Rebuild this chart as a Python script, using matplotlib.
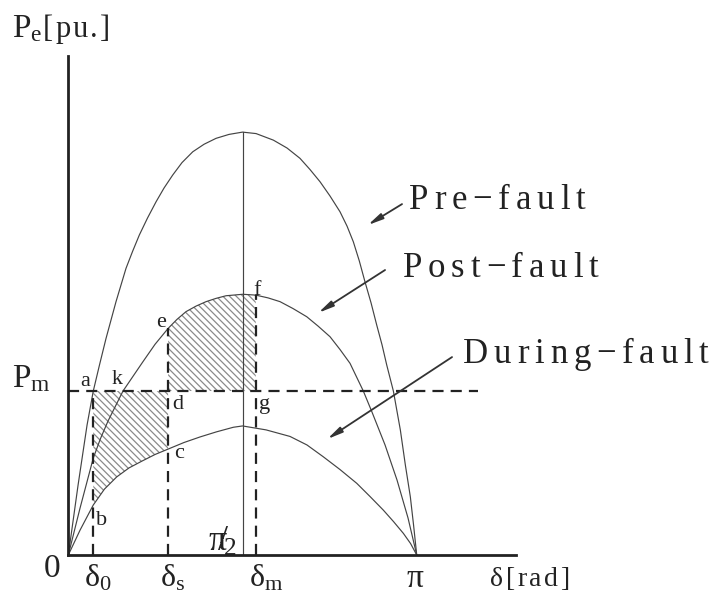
import numpy as np
import matplotlib
matplotlib.use("Agg")
import matplotlib.pyplot as plt
from matplotlib.textpath import TextToPath
from matplotlib.font_manager import FontProperties

plt.rcParams['font.family'] = ['Liberation Serif', 'DejaVu Serif']
plt.rcParams['mathtext.fontset'] = 'custom'
plt.rcParams['mathtext.rm'] = 'Liberation Serif'
plt.rcParams['mathtext.it'] = 'Liberation Serif:italic'
plt.rcParams['hatch.linewidth'] = 0.9

# power-angle curves (delta in rad, P in pu, Pm = 1)
delta_pre = [0.0, 0.088, 0.169, 0.225, 0.281, 0.340, 0.430, 0.520, 0.579, 0.640,
             0.714, 0.791, 0.863, 0.941, 1.025, 1.122, 1.224, 1.332, 1.449, 1.571,
             1.693, 1.849, 1.972, 2.089, 2.179, 2.270, 2.360, 2.450, 2.513, 2.570,
             2.624, 2.675, 2.730, 2.781, 2.829, 2.871, 2.931, 2.994, 3.039, 3.084,
             3.113, 3.1416]
p_pre = [0.0, 0.427, 0.793, 1.0, 1.159, 1.321, 1.545, 1.748, 1.851, 1.951,
         2.055, 2.154, 2.238, 2.317, 2.393, 2.459, 2.505, 2.541, 2.565, 2.579,
         2.570, 2.530, 2.482, 2.419, 2.351, 2.276, 2.189, 2.093, 2.006, 1.910,
         1.793, 1.666, 1.537, 1.402, 1.281, 1.159, 1.0, 0.762, 0.549, 0.355,
         0.183, 0.0]

delta_post = [0.0, 0.106, 0.225, 0.290, 0.358, 0.493, 0.671, 0.782, 0.90, 0.980,
              1.061, 1.152, 1.242, 1.332, 1.422, 1.573, 1.69, 1.801, 1.909, 2.026,
              2.150, 2.252, 2.360, 2.450, 2.540, 2.660, 2.738, 2.856, 2.964, 3.063,
              3.1416]
p_post = [0.0, 0.287, 0.591, 0.710, 0.817, 1.0, 1.177, 1.285, 1.382, 1.437,
          1.484, 1.518, 1.545, 1.565, 1.581, 1.590, 1.585, 1.568, 1.545, 1.503,
          1.453, 1.396, 1.331, 1.253, 1.169, 1.0, 0.872, 0.671, 0.457, 0.226,
          0.0]

delta_during = [0.0, 0.106, 0.225, 0.326, 0.436, 0.547, 0.665, 0.782, 0.90, 1.043,
                1.188, 1.336, 1.488, 1.571, 1.783, 1.999, 2.152, 2.299, 2.450, 2.601,
                2.720, 2.840, 2.932, 3.021, 3.086, 3.1416]
p_during = [0.0, 0.152, 0.305, 0.402, 0.476, 0.531, 0.573, 0.613, 0.646, 0.686,
            0.720, 0.751, 0.779, 0.787, 0.763, 0.723, 0.671, 0.599, 0.521, 0.437,
            0.357, 0.274, 0.204, 0.132, 0.070, 0.0]

Pm = 1.0
delta_0 = 0.225
delta_s = 0.90
delta_m = 1.69
pm_line_end = 3.694

curve_labels = ['Pre\u2212fault', 'Post\u2212fault', 'During\u2212fault']
point_labels = ['a', 'k', 'b', 'c', 'd', 'e', 'f', 'g']

ttp = TextToPath()


def spaced_text(ax, s, anchor, offset, size, track, xycoords='data'):
    # serif label with extra letter spacing (tracking in points)
    prop = FontProperties(family='Liberation Serif', size=size)
    x = offset[0]
    for ch in s:
        ax.annotate(ch, xy=anchor, xycoords=xycoords, xytext=(x, offset[1]),
                    textcoords='offset points', ha='left', va='baseline',
                    fontsize=size, color='#222222', annotation_clip=False)
        w, _, _ = ttp.get_text_width_height_descent(ch, prop, ismath=False)
        x += w + track


fig = plt.figure(figsize=(7.2, 5.96), dpi=100)
ax = fig.add_axes([0.0949, 0.0688, 0.6218, 0.8372])
ax.set_xlim(0, 4.037)
ax.set_ylim(0, 3.043)
for side in ['top', 'right']:
    ax.spines[side].set_visible(False)
for side in ['left', 'bottom']:
    ax.spines[side].set_linewidth(2.0)
    ax.spines[side].set_color('#222222')
ax.set_xticks([])
ax.set_yticks([])

curve_kw = dict(color='#444444', lw=0.85)
ax.plot(delta_pre, p_pre, **curve_kw)
ax.plot(delta_post, p_post, **curve_kw)
ax.plot(delta_during, p_during, **curve_kw)

# accelerating / decelerating areas
d_dur = np.array(delta_during)
p_dur = np.array(p_during)
m = (d_dur >= delta_0) & (d_dur <= delta_s)
ax.fill_between(d_dur[m], p_dur[m], Pm, facecolor='none', edgecolor='#8a8a8a',
                hatch='\\\\\\\\\\', linewidth=0)
d_po = np.array(delta_post)
p_po = np.array(p_post)
m = (d_po >= delta_s) & (d_po <= delta_m)
ax.fill_between(d_po[m], Pm, p_po[m], facecolor='none', edgecolor='#8a8a8a',
                hatch='\\\\\\\\\\', linewidth=0)

dash_kw = dict(color='#222222', lw=1.6, linestyle=(0, (5, 3.2)))
ax.plot([0, pm_line_end], [Pm, Pm], **dash_kw)
p_e = p_post[delta_post.index(delta_s)]
p_f = p_post[delta_post.index(delta_m)]
ax.plot([delta_0, delta_0], [0, Pm], **dash_kw)
ax.plot([delta_s, delta_s], [0, p_e], **dash_kw)
ax.plot([delta_m, delta_m], [0, p_f], **dash_kw)
ax.plot([np.pi / 2, np.pi / 2], [0, max(p_pre)], color='#444444', lw=0.85)

# point letters
p_b = p_during[delta_during.index(delta_0)]
p_c = p_during[delta_during.index(delta_s)]
k_delta = delta_post[p_post.index(Pm)]
anchors = [(delta_0, Pm), (k_delta, Pm), (delta_0, p_b), (delta_s, p_c),
           (delta_s, Pm), (delta_s, p_e), (delta_m, p_f), (delta_m, Pm)]
offsets = [(-5.9, 6.5), (-4, 8), (6.3, -11.5), (7.9, -2.9),
           (7.2, -10), (-5, 4.5), (1, 3.5), (6, -10)]
for lab, xy, off in zip(point_labels, anchors, offsets):
    ax.annotate(lab, xy=xy, xytext=off, textcoords='offset points',
                ha='center', va='center', fontsize=16, color='#222222')

# arrows and curve names
arrow_start = [(3.009, 2.140), (2.856, 1.738), (3.460, 1.207)]
arrow_tip = [(2.700, 2.012), (2.254, 1.477), (2.335, 0.707)]
text_off = [(5, -3.6), (12.7, -4.8), (7.9, -4.1)]
for name, s, t, off in zip(curve_labels, arrow_start, arrow_tip, text_off):
    ax.annotate('', xy=t, xytext=s,
                arrowprops=dict(arrowstyle='-|>,head_length=0.9,head_width=0.18',
                                color='#333333', lw=1.3, shrinkA=0, shrinkB=0))
    spaced_text(ax, name, s, off, 25, 4.2)

# axis annotations
tk = dict(textcoords='offset points', color='#222222', annotation_clip=False)
ax.annotate('0', xy=(0, 0), xytext=(-11.4, -9.7), ha='center', va='center', fontsize=24, **tk)
ax.annotate(r'$\mathrm{δ_0}$', xy=(delta_0, 0), xytext=(3.4, -6.0), ha='center', va='top', fontsize=23, **tk)
ax.annotate(r'$\mathrm{δ_s}$', xy=(delta_s, 0), xytext=(2.9, -6.0), ha='center', va='top', fontsize=23, **tk)
ax.annotate(r'$\mathrm{δ_m}$', xy=(delta_m, 0), xytext=(7.4, -6.0), ha='center', va='top', fontsize=23, **tk)
ax.annotate('π', xy=(np.pi, 0), xytext=(-1.2, -17.0), ha='center', va='center', fontsize=24, **tk)
ax.annotate(r'$\mathrm{π}\!\!/\!_{\mathrm{2}}$', xy=(np.pi / 2, 0), xytext=(-14.8, 9.4),
            ha='center', va='center', fontsize=26, **tk)
spaced_text(ax, 'δ[rad]', (1, 0), (-18.7, -22.0), 20, 1.8, xycoords='axes fraction')
ax.annotate(r'$\mathrm{P_m}$', xy=(0, Pm), xytext=(-40.5, 2.9), ha='left', va='baseline', fontsize=24, **tk)
ax.annotate(r'$\mathrm{P_e}$', xy=(0, 1), xycoords='axes fraction', xytext=(-40.5, 13.9),
            ha='left', va='baseline', fontsize=24, **tk)
spaced_text(ax, '[pu.]', (0, 1), (-18.2, 13.7), 22, 1.5, xycoords='axes fraction')

fig.savefig('out.png', dpi=100, facecolor='white')
